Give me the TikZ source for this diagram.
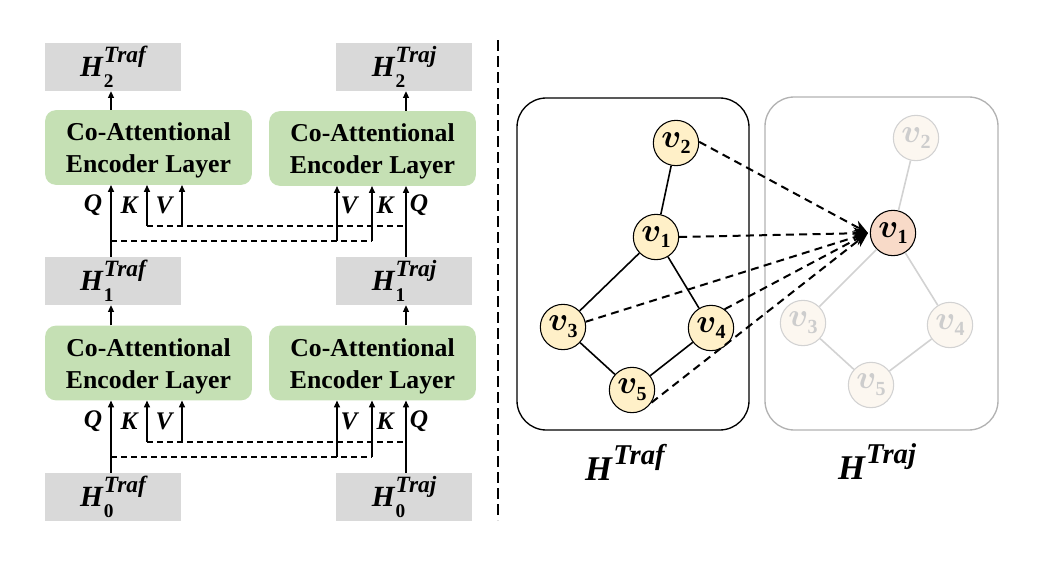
\documentclass[tikz,border=0pt]{standalone}
\usepackage{bm}
\usepackage{fontspec}
\setmainfont{Liberation Serif}
\usetikzlibrary{arrows.meta}
\definecolor{gbox}{RGB}{217,217,217}
\definecolor{grn}{RGB}{197,224,180}
\definecolor{ylw}{RGB}{255,240,200}
\definecolor{peach}{RGB}{248,218,200}
\definecolor{fadefill}{RGB}{252,247,240}
\definecolor{fadeline}{RGB}{210,210,210}
\definecolor{fadetext}{RGB}{205,205,205}
\newcommand\HL[2]{{\fontsize{22}{22}\selectfont\bfseries\itshape H}\kern0.8pt\rlap{\raisebox{-8.5pt}{\fontsize{14.5}{15}\selectfont\bfseries\upshape #1}}\raisebox{10.5pt}{\fontsize{17.5}{18}\selectfont\bfseries\itshape #2}}
\newcommand\HB[1]{{\fontsize{26}{26}\selectfont\bfseries\itshape H}\kern0.8pt\raisebox{12pt}{\fontsize{21.5}{22}\selectfont\bfseries\itshape #1}}
\newcommand\VV[1]{{\fontsize{24}{26}\selectfont$\bm{v}$}\kern-0.5pt\raisebox{-5pt}{\fontsize{15}{16}\selectfont\bfseries #1}}
\tikzset{
  x=0.75pt, y=-0.75pt,
  graybox/.style={fill=gbox, minimum width=102pt, minimum height=36pt, inner sep=0pt},
  greenbox/.style={fill=grn, rounded corners=8pt, minimum width=155pt, minimum height=56pt, inner sep=0pt},
  gtext/.style={align=center, inner sep=0pt, font=\fontsize{19.3}{24}\selectfont\bfseries},
  arr/.style={line width=0.9pt, -{Triangle[length=5pt,width=4.5pt]}},
  dline/.style={line width=0.9pt, dash pattern=on 4.5pt off 3pt},
  qkv/.style={font=\fontsize{19}{22}\selectfont\bfseries\itshape, inner sep=0pt},
  vnode/.style={circle, draw=black, line width=0.8pt, fill=ylw, minimum size=34pt, inner sep=0pt},
  fnode/.style={circle, draw=fadeline, line width=0.8pt, fill=fadefill, minimum size=34pt, inner sep=0pt, text=fadetext},
  gedge/.style={line width=1.2pt},
  fedge/.style={line width=1.2pt, draw=fadeline},
  darr/.style={line width=1.5pt, dash pattern=on 6pt off 4pt, -{Stealth[length=11pt,width=9pt]}},
}
\begin{document}
\begin{tikzpicture}
\useasboundingbox (0,0) rectangle (1058,564);
% x positions
\coordinate (xQL) at (111,0);
\coordinate (xKL) at (147,0);
\coordinate (xVL) at (182,0);
\coordinate (xVR) at (337,0);
\coordinate (xKR) at (372,0);
\coordinate (xQR) at (406,0);
% gray boxes
\node[graybox] (H2L) at (113,67) {\HL{2}{Traf}};
\node[graybox] (H2R) at (404,67) {\HL{2}{Traj}};
\node[graybox] (H1L) at (113,281) {\HL{1}{Traf}};
\node[graybox] (H1R) at (404,281) {\HL{1}{Traj}};
\node[graybox] (H0L) at (113,497) {\HL{0}{Traf}};
\node[graybox] (H0R) at (404,497) {\HL{0}{Traj}};
% green boxes
\node[greenbox] (G2L) at (148.5,147.5) {};
\node[greenbox] (G2R) at (372.5,148.5) {};
\node[greenbox] (G1L) at (148.5,363) {};
\node[greenbox] (G1R) at (372.5,363) {};
\node[gtext] (T2L) at ([yshift=-2.5pt]G2L.center) {Co-Attentional\\Encoder Layer};
\node[gtext] (T2R) at ([yshift=-2.5pt]G2R.center) {Co-Attentional\\Encoder Layer};
\node[gtext] (T1L) at ([yshift=-2.5pt]G1L.center) {Co-Attentional\\Encoder Layer};
\node[gtext] (T1R) at ([yshift=-2.5pt]G1R.center) {Co-Attentional\\Encoder Layer};
% outputs
\draw[arr] (G2L.north -| xQL) -- (H2L.south -| xQL);
\draw[arr] (G2R.north -| xQR) -- (H2R.south -| xQR);
\draw[arr] (G1L.north -| xQL) -- (H1L.south -| xQL);
\draw[arr] (G1R.north -| xQR) -- (H1R.south -| xQR);
% ---- top layer inputs
\coordinate (tU) at (0,226);
\coordinate (tD) at (0,241);
\draw[arr] (H1L.north -| xQL) -- (G2L.south -| xQL);
\draw[arr] (H1R.north -| xQR) -- (G2R.south -| xQR);
\draw[dline] (tU -| xKL) -- (tU -| xQR);
\draw[dline] (tD -| xQL) -- (tD -| xKR);
\draw[arr] (tU -| xKL) -- (G2L.south -| xKL);
\draw[arr] (tU -| xVL) -- (G2L.south -| xVL);
\draw[arr] (tD -| xVR) -- (G2R.south -| xVR);
\draw[arr] (tD -| xKR) -- (G2R.south -| xKR);
\node[qkv] (q1) at (93,205) {Q};
\node[qkv] (k1) at (129,205) {K};
\node[qkv] (v1) at (164,205) {V};
\node[qkv] (v2) at (349,205) {V};
\node[qkv] (k2) at (385,205) {K};
\node[qkv] (q2) at (419,205) {Q};
% ---- bottom layer inputs
\coordinate (bU) at (0,442);
\coordinate (bD) at (0,457);
\draw[arr] (H0L.north -| xQL) -- (G1L.south -| xQL);
\draw[arr] (H0R.north -| xQR) -- (G1R.south -| xQR);
\draw[dline] (bU -| xKL) -- (bU -| xQR);
\draw[dline] (bD -| xQL) -- (bD -| xKR);
\draw[arr] (bU -| xKL) -- (G1L.south -| xKL);
\draw[arr] (bU -| xVL) -- (G1L.south -| xVL);
\draw[arr] (bD -| xVR) -- (G1R.south -| xVR);
\draw[arr] (bD -| xKR) -- (G1R.south -| xKR);
\node[qkv] (q3) at (93,421) {Q};
\node[qkv] (k3) at (129,421) {K};
\node[qkv] (v3) at (164,421) {V};
\node[qkv] (v4) at (349,421) {V};
\node[qkv] (k4) at (385,421) {K};
\node[qkv] (q4) at (419,421) {Q};
% divider
\coordinate (dA) at (498,40);
\coordinate (dB) at (498,520);
\draw[line width=1.4pt, dash pattern=on 8pt off 4pt] (dA) -- (dB);
% ---- right panel
\draw[line width=1pt, rounded corners=22pt] (517,98) rectangle (749,430);
\draw[line width=1pt, draw=fadeline!85!black, rounded corners=22pt] (765,97) rectangle (998,430);
% Traj graph (faded)
\node[fnode] (b2) at (916,138) {\VV{2}};
\node[vnode, fill=peach] (b1) at (893,233) {\VV{1}};
\node[fnode] (b3) at (803,323) {\VV{3}};
\node[fnode] (b4) at (950,325) {\VV{4}};
\node[fnode] (b5) at (871,385) {\VV{5}};
\draw[fedge] (b2) -- (b1);
\draw[fedge] (b1) -- (b3);
\draw[fedge] (b1) -- (b4);
\draw[fedge] (b3) -- (b5);
\draw[fedge] (b5) -- (b4);
% Traf graph
\node[vnode] (a2) at (676,143) {\VV{2}};
\node[vnode] (a1) at (656,237) {\VV{1}};
\node[vnode] (a3) at (563,327) {\VV{3}};
\node[vnode] (a4) at (711,328) {\VV{4}};
\node[vnode] (a5) at (632,390) {\VV{5}};
\draw[gedge] (a2) -- (a1);
\draw[gedge] (a1) -- (a3);
\draw[gedge] (a1) -- (a4);
\draw[gedge] (a3) -- (a5);
\draw[gedge] (a5) -- (a4);
% attention arrows
\coordinate (tip) at (868,233);
\draw[darr] (a2.3) -- (tip);
\draw[darr] (a1.east) -- (tip);
\draw[darr] (a3.13) -- (tip);
\draw[darr] (a4.54) -- (tip);
\draw[darr] (a5.-33) -- (tip);
% labels
\node[inner sep=0pt] (lt) at (625,462) {\HB{Traf}};
\node[inner sep=0pt] (lj) at (877,462) {\HB{Traj}};
\end{tikzpicture}
\end{document}
